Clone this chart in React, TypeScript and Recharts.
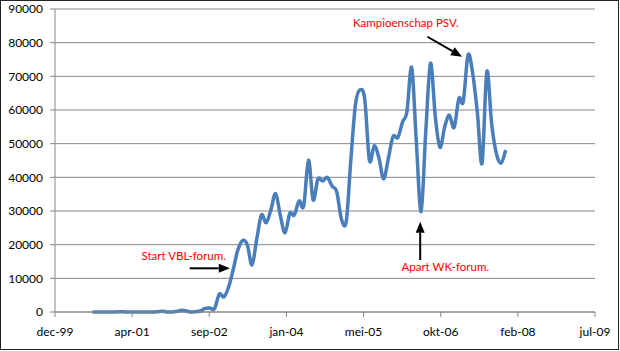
import { LineChart, Line, XAxis, YAxis, CartesianGrid, ReferenceLine } from 'recharts'

// monthly counts, jul-2000 .. nov-2007
const firstMonth = { year: 2000, month: 6 }
const counts = [
  0, 0, 0, 0, 0, 0, 100, 0, 0, 0, 0, 0, 0, 0, 100, 200,
  0, 0, 200, 500, 300, 0, 100, 300, 1100, 1200, 1000, 5300, 4500, 7500,
  13000, 18400, 21200, 20000, 14000, 21500, 28800, 26500, 30300, 35200,
  28800, 23500, 29300, 28800, 33000, 31500, 45100, 33300, 39500, 38900,
  40000, 37400, 35700, 27500, 27000, 44200, 61500, 66000, 63000, 45000,
  49400, 45700, 39500, 45700, 52100, 51800, 56500, 59500, 72600, 50500,
  29800, 53500, 73900, 58000, 48900, 55000, 58500, 54800, 63500, 62500,
  76300, 71000, 59000, 44200, 71400, 56000, 47200, 44200, 48100,
]

// excel date axis: days since 1 dec 1999, major unit 500 days
const xTickDays = [0, 500, 1000, 1500, 2000, 2500, 3000, 3500]
const xTickLabels = ['dec-99', 'apr-01', 'sep-02', 'jan-04', 'mei-05', 'okt-06', 'feb-08', 'jul-09']
const yTicks = [0, 10000, 20000, 30000, 40000, 50000, 60000, 70000, 80000, 90000]

// annotation arrows (days, value)
const arrows = [
  [{ x: 873, y: 12980 }, { x: 1133, y: 12980 }],
  [{ x: 2414, y: 81760 }, { x: 2638, y: 75820 }],
  [{ x: 2367, y: 15440 }, { x: 2367, y: 26820 }],
]
const notes = [
  { text: 'Start VBL-forum.', x: 141.5, y: 259.5 },
  { text: 'Kampioenschap PSV.', x: 353, y: 26.5 },
  { text: 'Apart WK-forum.', x: 401.5, y: 270.5 },
]

const dayZero = Date.UTC(1999, 11, 1)
const data = counts.map((value, i) => ({
  day: (Date.UTC(firstMonth.year, firstMonth.month + i + 1, 0) - dayZero) / 86400000,
  value,
}))

// excel style smoothing (catmull-rom through the points)
const excelSmooth = (context: any) => {
  let pts: number[][] = []
  return {
    areaStart() {},
    areaEnd() {},
    lineStart() {
      pts = []
    },
    point(x: number, y: number) {
      pts.push([+x, +y])
    },
    lineEnd() {
      if (!pts.length) return
      context.moveTo(pts[0][0], pts[0][1])
      for (let i = 0; i < pts.length - 1; i++) {
        const p0 = pts[i - 1] || pts[i]
        const p1 = pts[i]
        const p2 = pts[i + 1]
        const p3 = pts[i + 2] || p2
        context.bezierCurveTo(
          p1[0] + (p2[0] - p0[0]) / 6,
          p1[1] + (p2[1] - p0[1]) / 6,
          p2[0] - (p3[0] - p1[0]) / 6,
          p2[1] - (p3[1] - p1[1]) / 6,
          p2[0],
          p2[1]
        )
      }
    },
  }
}

const Arrow = (props: any) => {
  const { x1, y1, x2, y2 } = props
  const a = Math.atan2(y2 - y1, x2 - x1)
  const len = 11
  const w = 4.5
  const bx = x2 - len * Math.cos(a)
  const by = y2 - len * Math.sin(a)
  const px = -Math.sin(a) * w
  const py = Math.cos(a) * w
  return (
    <g>
      <line x1={x1} y1={y1} x2={bx} y2={by} stroke="#000" strokeWidth={2} />
      <polygon points={`${x2},${y2} ${bx + px},${by + py} ${bx - px},${by - py}`} fill="#000" />
    </g>
  )
}

export default function App() {
  const tick = { fill: '#000', fontSize: 12, fontFamily: 'Lato' }
  return (
    <div style={{ position: 'relative', width: 620, height: 351, fontFamily: 'Lato', background: '#fff' }}>
      <style>{'body{margin:0}'}</style>
      <LineChart width={620} height={351} data={data} margin={{ top: 9, right: 25, bottom: 0, left: 0 }}>
        <CartesianGrid vertical={false} stroke="#868686" />
        <XAxis
          dataKey="day"
          type="number"
          domain={[0, 3500]}
          ticks={xTickDays}
          tickFormatter={(v: number) => xTickLabels[xTickDays.indexOf(v)]}
          interval={0}
          height={39}
          tickSize={5}
          tickMargin={10}
          stroke="#868686"
          tick={tick}
        />
        <YAxis
          domain={[0, 90000]}
          ticks={yTicks}
          interval={0}
          width={55}
          tickSize={5}
          tickMargin={7}
          stroke="#868686"
          tick={tick}
        />
        <Line
          dataKey="value"
          type={excelSmooth as any}
          stroke="#4A7EBB"
          strokeWidth={3.5}
          dot={false}
          isAnimationActive={false}
        />
        {arrows.map((seg, i) => (
          <ReferenceLine key={i} segment={seg} ifOverflow="visible" shape={Arrow} />
        ))}
      </LineChart>
      <svg width={620} height={351} style={{ position: 'absolute', left: 0, top: 0, pointerEvents: 'none' }}>
        {notes.map((n) => (
          <text key={n.text} x={n.x} y={n.y} fill="#FF0000" fontSize={11.5} fontFamily="Lato">
            {n.text}
          </text>
        ))}
      </svg>
      <div
        style={{
          position: 'absolute',
          left: 0,
          top: 0,
          width: 619,
          height: 350,
          border: '1px solid #222',
          boxSizing: 'border-box',
          pointerEvents: 'none',
        }}
      />
    </div>
  )
}
